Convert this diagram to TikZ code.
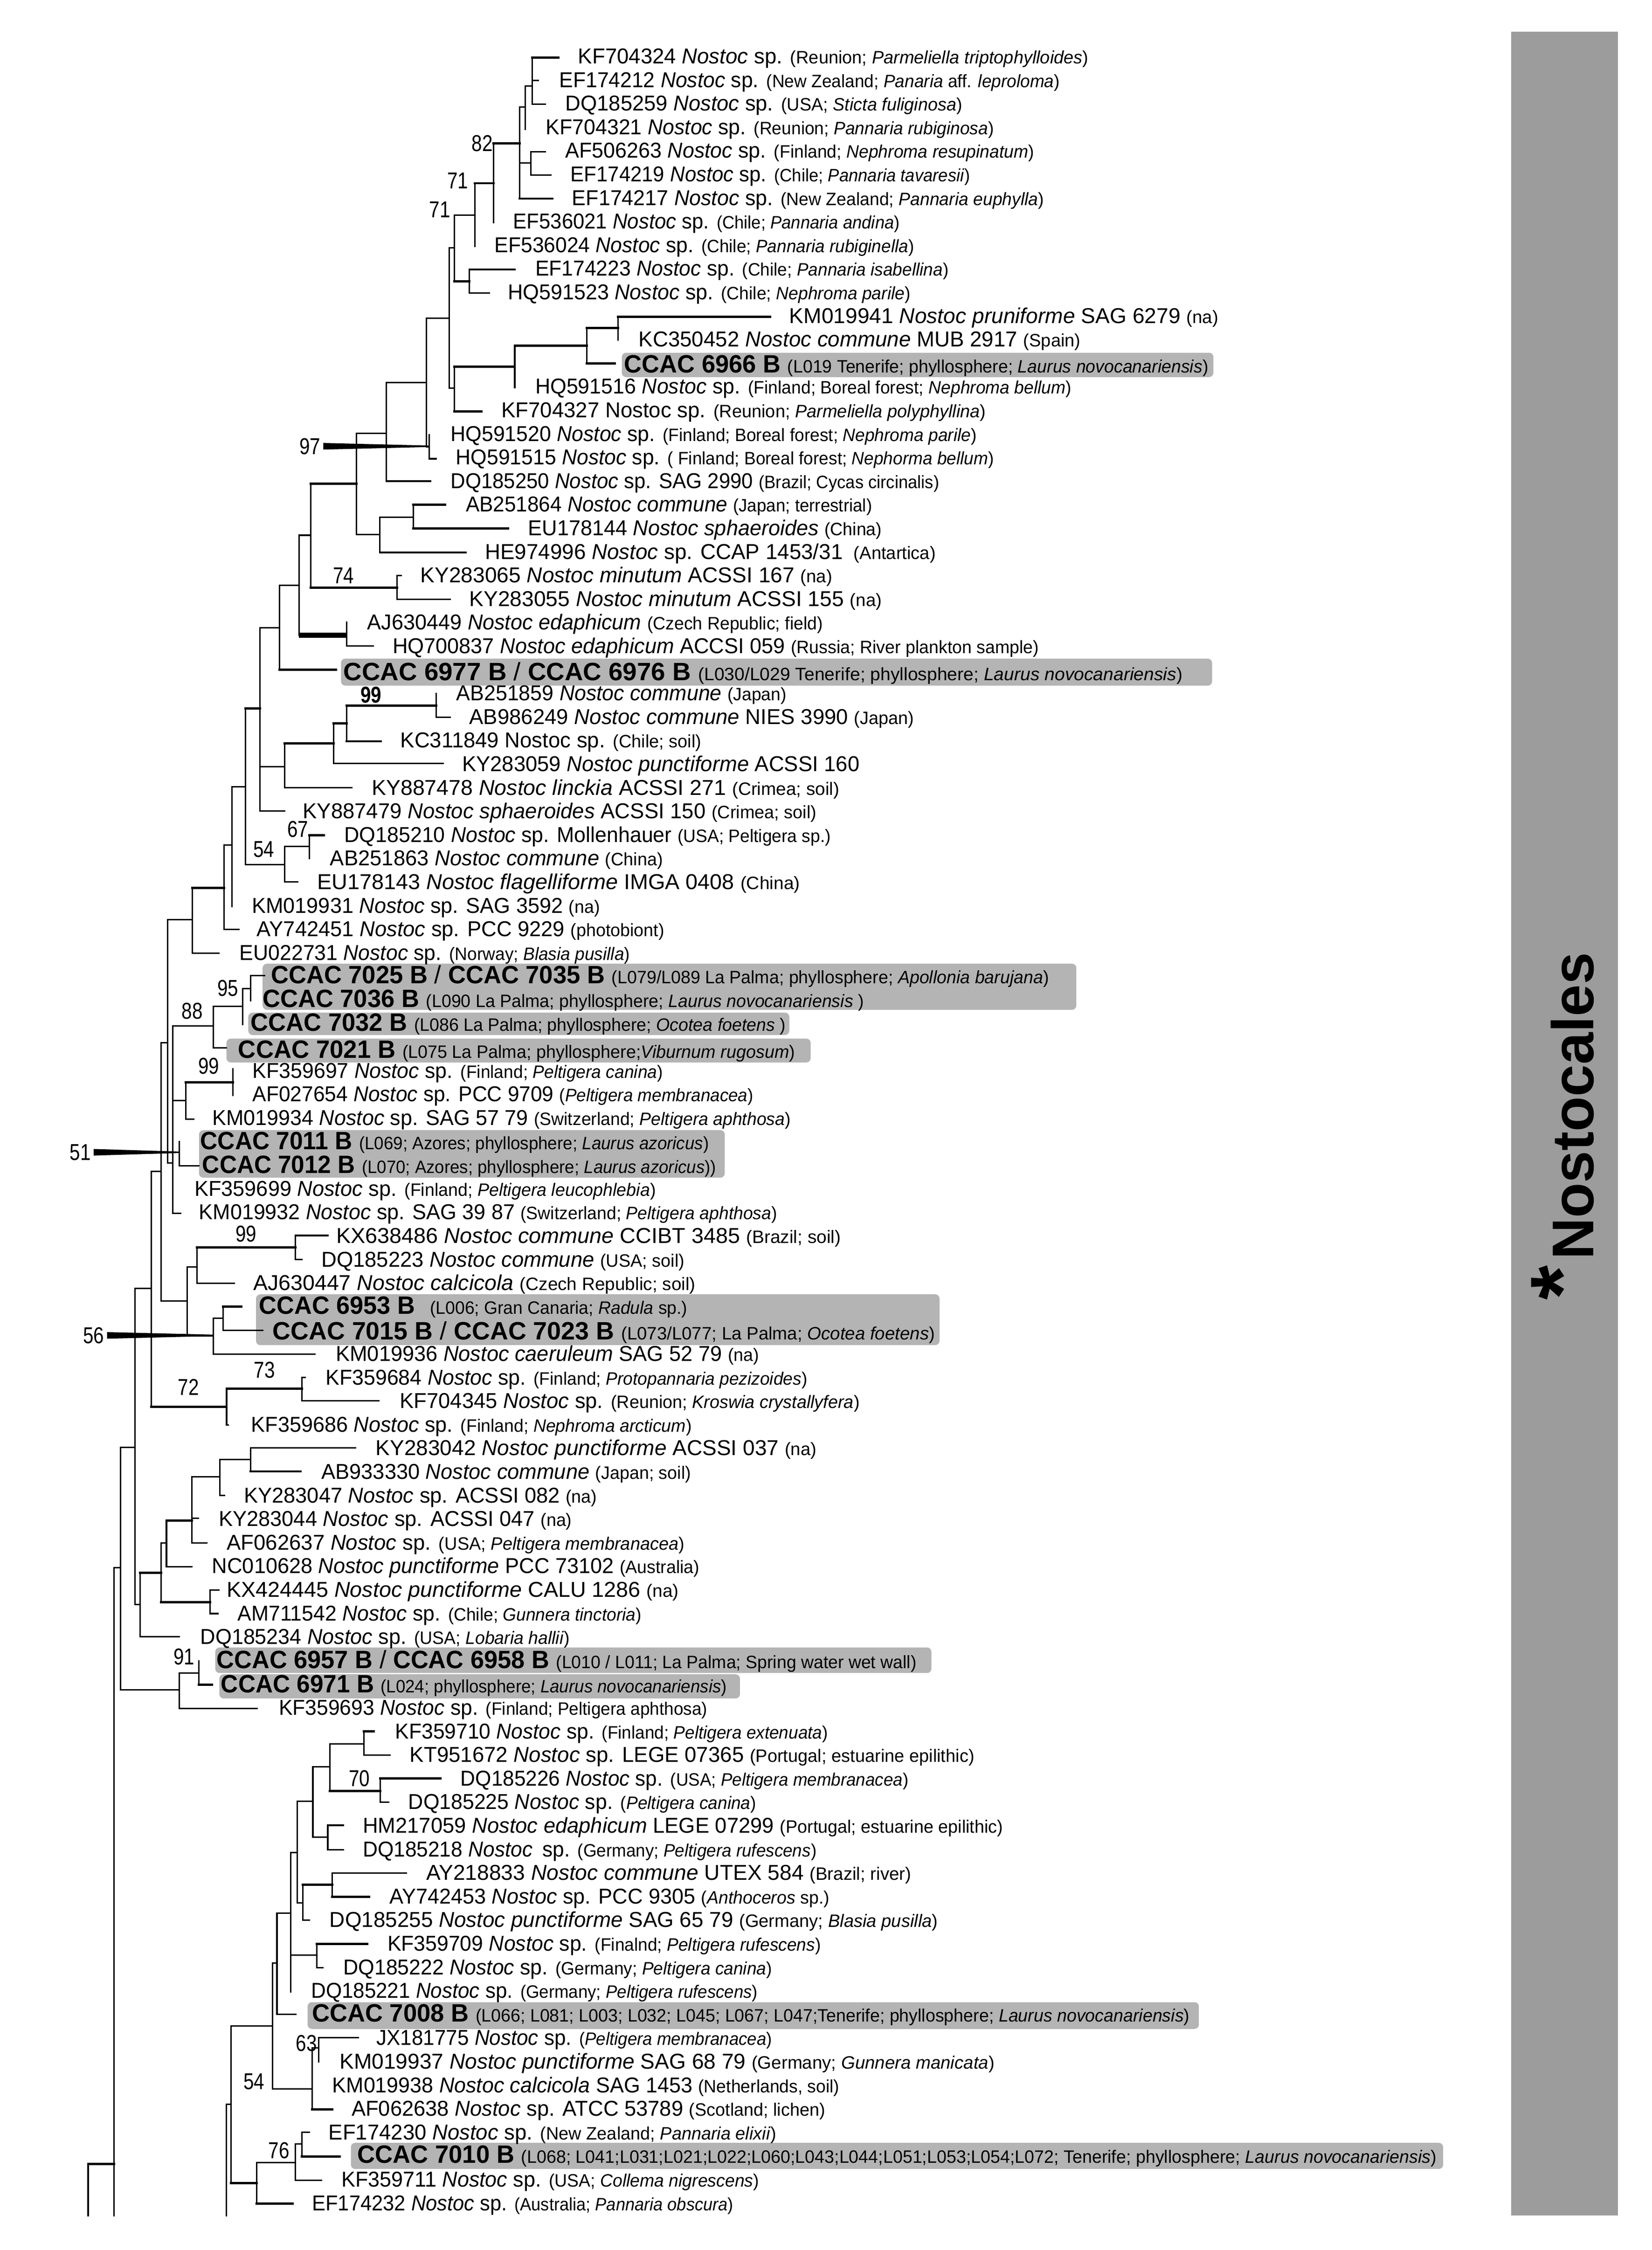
\documentclass[tikz,border=0pt]{standalone}
\usepackage{fontspec}
\usepackage{graphicx}
\usetikzlibrary{calc}
\setmainfont{Liberation Sans}
\definecolor{hl}{HTML}{B4B4B4}
\definecolor{barc}{HTML}{9C9C9C}
\newsavebox\fitbx
\newlength\fitlen
\newcommand\nmf{\normalfont\fontsize{15}{15}\selectfont}
\newcommand\smf{\normalfont\fontsize{12.5}{13}\selectfont}
\newcommand\bdf{\normalfont\fontsize{17.5}{18}\selectfont\bfseries}
\newcommand\It[1]{\textit{#1}}
\newcommand\Ns{\textit{Nostoc} sp.}
% width, content: set the content on one line, squeezed to the given width
\newcommand\fitw[2]{\sbox\fitbx{#2}\setlength\fitlen{\wd\fitbx}%
  \pgfmathsetmacro\fitscale{#1/\fitlen}\scalebox{\fitscale}[1]{\usebox\fitbx}}
% n, x, dy, right end, name, details
\newcommand\leafN[6]{%
  \pgfmathsetmacro\ly{39+(#1-1)*16.44+5.35+#3}%
  \pgfmathsetmacro\lw{#4-#2}%
  \node[leaf] (L#1) at (#2,\ly) {\fitw{\lw}{\nmf #5 \smf #6}};}
\newcommand\leafB[6]{%
  \pgfmathsetmacro\ly{39+(#1-1)*16.44+6.25+#3}%
  \pgfmathsetmacro\lw{#4-#2}%
  \node[leaf] (L#1) at (#2,\ly) {\fitw{\lw}{\bdf #5 \smf #6}};}
\newcommand\Sl{{\mdseries /}}
\newcommand\Nd[3]{\coordinate (#1) at (#2,#3);}
\newcommand\Br[4]{\coordinate (#1) at (#3,#4); \draw[br] (#2) |- (#1);}
\newcommand\Bt[4]{\coordinate (#1) at (#3,#4); \draw[br] (#2) |- (#1); \draw[thk] (#2 |- #1) -- (#1);}
\newcommand\Hl[5]{\fill[hl,rounded corners=3pt] (#2,#3) rectangle (#4,#5) coordinate (hl#1);}
\newcommand\Sv[4]{\node[supp] (#1) at (#2,#3) {\scalebox{.82}[1]{#4}};}
\newcommand\Wg[2]{\fill ($(#1.east)+(2,-2.3)$) -- ($(#1.east -| #2)+(0,-.5)$) -- ($(#1.east -| #2)+(0,.5)$) -- ($(#1.east)+(2,2.3)$) -- cycle;}
\tikzset{
  br/.style={line width=1pt,line cap=rect,black},
  thk/.style={line width=1.6pt,line cap=rect,black},
  leaf/.style={anchor=base west,inner sep=0pt,outer sep=0pt},
  supp/.style={inner sep=0pt,outer sep=0pt,font=\normalfont\fontsize{16}{16}\selectfont},
}
\begin{document}
\begin{tikzpicture}[x=1pt,y=-1pt]
\useasboundingbox (0,0) rectangle (1151.1,1568);
\fill[white] (0,0) rectangle (1151.1,1568);
\fill[barc] (1053,22) rectangle (1127.5,1544);
% highlights
\Hl{a}{433.3}{245.8}{845.5}{262.8}
\Hl{b}{237.6}{459}{844.6}{477.8}
\Hl{c}{183}{671.6}{750}{703.7}
\Hl{d}{173}{705.7}{550}{721.3}
\Hl{e}{157.8}{723.8}{564.9}{740.4}
\Hl{f}{138.7}{787.6}{505}{820.7}
\Hl{g}{178.4}{902}{654.7}{937.4}
\Hl{h}{150}{1148.1}{649}{1165.9}
\Hl{i}{152.8}{1166.8}{515.6}{1183.6}
\Hl{j}{214.3}{1395.3}{835.4}{1413.9}
\Hl{k}{244.5}{1493.3}{1005.6}{1511.5}
% tree
\Nd{rt}{61.4}{1544}
\Bt{a}{rt}{79.4}{1508}
\Br{cutA}{a}{79.4}{1544}
\Br{b}{a}{84}{1092.6}
\Br{c}{b}{94}{1008.6}
\Br{d}{c}{105.4}{898}
\Br{f}{d}{112.3}{816.2}
\Br{g}{f}{116.8}{726.5}
\Br{h}{g}{134}{641}
\Bt{i}{h}{156}{618.7}
\Br{j}{i}{161.5}{589}
\Br{k}{j}{171}{548.3}
\Bt{l}{k}{181}{493.8}
\Br{m}{l}{194.7}{437.4}
\Br{n}{m}{208.4}{407.8}
\Br{o}{n}{216.6}{373}
\Bt{p}{o}{248.5}{337}
\Br{q}{p}{269.2}{302}
\Br{ra}{q}{297.2}{266.5}
\Br{s1}{ra}{313}{221.7}
\Br{s2}{s1}{316.6}{172.6}
\Br{s3}{s2}{331}{149.8}
\Bt{s4}{s3}{344}{127.7}
\Bt{s5}{s4}{362}{100}
\Br{s6}{s5}{366}{74.6}
\Br{s7}{s6}{371}{60}
\Bt{e1}{s7}{389}{40}
\Br{e2}{s7}{375}{56}
\Br{e3}{s7}{380}{72.6}
\Br{e4}{s6}{366}{90}
\Br{s8}{s5}{370}{113.6}
\Br{e5}{s8}{380}{105.7}
\Br{e6}{s8}{384}{121.9}
\Bt{e7}{s5}{385}{138.4}
\Br{e8}{s4}{344}{155}
\Br{e9}{s3}{331}{171.6}
\Bt{s9}{s2}{327}{196}
\Br{e10}{s9}{358.7}{187.8}
\Br{e11}{s9}{341}{204.3}
\Br{s10}{s1}{316.6}{270.6}
\Bt{s11}{s10}{358.7}{255.5}
\Bt{s12}{s11}{409}{241}
\Bt{s13}{s12}{430.7}{228.6}
\Bt{e12}{s13}{536.7}{220.9}
\Br{e13}{s13}{430.7}{236.9}
\Bt{e14}{s12}{428.5}{253.4}
\Br{e15}{s11}{358.7}{270}
\Bt{e16}{s10}{335.6}{286.6}
\Br{s14}{ra}{299}{311.5}
\Br{e17}{s14}{299}{303}
\Br{e18}{s14}{304}{319.7}
\Br{e19}{q}{300}{335.3}
\Br{s15}{p}{264.5}{372.6}
\Br{s16}{s15}{288}{360.5}
\Bt{e20}{s16}{310}{351.8}
\Bt{e21}{s16}{354}{368.4}
\Br{e22}{s15}{324.6}{385}
\Bt{s17}{o}{276.8}{409.4}
\Br{e23}{s17}{279.5}{401}
\Br{e24}{s17}{313.7}{417.7}
\Br{s18}{n}{241.7}{442.6}
\draw[line width=3.5pt] (n |- s18) -- (s18);
\Br{e25}{s18}{241.7}{433.7}
\Br{e26}{s18}{260}{450.3}
\Bt{e27}{m}{234}{466.8}
\Br{s19}{l}{198.4}{534.2}
\Bt{s20}{s19}{232.6}{518}
\Bt{s21}{s20}{241.7}{504}
\Bt{s22}{s21}{304}{491.7}
\Br{e28}{s22}{304}{483.4}
\Br{e29}{s22}{313.7}{500}
\Bt{e30}{s21}{265.4}{516.6}
\Br{e31}{s20}{308.7}{532}
\Br{e32}{s19}{245}{549}
\Br{e33}{l}{198.4}{565.3}
\Br{s23}{k}{198.4}{602.5}
\Br{s24}{s23}{215.7}{590}
\Bt{e34}{s24}{225.7}{582}
\Br{e35}{s24}{215.7}{598.4}
\Br{e36}{s23}{207.5}{614.6}
\Br{e37}{j}{161.5}{631.6}
\Br{e38}{i}{166.5}{647.7}
\Br{e39}{h}{152.4}{664.3}
\Br{s25}{g}{120.5}{810.4}
\Br{s26}{s25}{148.7}{715}
\Br{s27}{s26}{169.2}{701.2}
\Br{s28}{s27}{174.7}{689}
\Br{e40}{s28}{184.3}{679.8}
\Br{e41}{s28}{174.7}{697.5}
\Br{e42}{s27}{169.2}{714}
\Br{e43}{s26}{157.8}{730.2}
\Br{s29}{s25}{129.6}{766.9}
\Bt{s30}{s29}{162.4}{754.4}
\Br{e44}{s30}{162.4}{745}
\Br{e45}{s30}{162.4}{763.4}
\Br{e46}{s29}{135}{780}
\Br{s31}{s25}{125}{803.1}
\Br{e47}{s31}{125}{795.5}
\Br{e48}{s31}{138.7}{812.5}
\Br{e49}{s25}{120.5}{827}
\Br{e50}{s25}{126}{845.6}
\Br{s32}{f}{130.5}{906.7}
\Br{s33}{s32}{137.3}{883}
\Bt{s34}{s33}{205.7}{869.4}
\Br{e51}{s34}{228.5}{861}
\Br{e52}{s34}{210.3}{877.7}
\Br{e53}{s33}{163.3}{894.3}
\Br{s35}{s32}{148.7}{931}
\Br{s36}{s35}{155.6}{918.7}
\Bt{e54}{s36}{168.3}{910.5}
\Br{e55}{s36}{183}{927}
\Br{e56}{s35}{219.4}{943.6}
\Bt{s37}{d}{157.9}{980.3}
\Bt{s38}{s37}{210.3}{967.8}
\Br{e57}{s38}{212.5}{960}
\Br{e58}{s38}{264}{976.2}
\Br{e59}{s37}{159}{993}
\Br{s39}{c}{97.7}{1118.3}
\Bt{s40}{s39}{112.3}{1096}
\Br{s41}{s40}{116}{1075.4}
\Bt{s42}{s41}{133.7}{1059.6}
\Br{s43}{s42}{153.3}{1029.2}
\Br{s44}{s43}{174.7}{1017.2}
\Br{e60}{s44}{247.6}{1009}
\Bt{e61}{s44}{209.4}{1025.4}
\Br{e62}{s43}{156.5}{1042.2}
\Br{e63}{s42}{138.2}{1058}
\Br{e64}{s42}{144.2}{1075.4}
\Br{e65}{s41}{133.7}{1091.8}
\Bt{s45}{s40}{146.5}{1116.4}
\Br{e66}{s45}{152.4}{1108}
\Br{e67}{s45}{152}{1124.5}
\Br{e68}{s39}{125}{1140.7}
\Br{s46}{b}{125}{1177.6}
\Br{s47}{s46}{138.7}{1166}
\Br{e69}{s47}{138.7}{1157.5}
\Bt{e70}{s47}{147.8}{1174}
\Br{e71}{s46}{179.3}{1190.7}
\Nd{rs}{157.7}{1544}
\Br{u1}{rs}{161}{1466.4}
\Br{u2}{u1}{189.9}{1412}
\Br{u3}{u2}{193}{1368}
\Br{u4}{u3}{202.7}{1333.1}
\Br{u5}{u4}{207}{1291}
\Br{u6}{u5}{218}{1255.4}
\Br{u7}{u6}{229.9}{1231.1}
\Br{u8}{u7}{253.6}{1215.3}
\Bt{e72}{u8}{260.4}{1206.5}
\Br{e73}{u8}{271.8}{1223}
\Bt{u9}{u7}{265}{1248}
\Bt{e74}{u9}{306.9}{1239.2}
\Br{e75}{u9}{270.9}{1256}
\Br{u10}{u6}{228.4}{1280.2}
\Br{e76}{u10}{239.3}{1272}
\Br{e77}{u10}{239.3}{1289}
\Br{u11}{u5}{211}{1326}
\Bt{u12}{u11}{231.6}{1313.5}
\Br{e78}{u12}{283}{1305.3}
\Bt{e79}{u12}{257.3}{1321.8}
\Br{e80}{u11}{215.6}{1338}
\Br{u13}{u4}{220.7}{1362.5}
\Bt{e81}{u13}{256}{1354.7}
\Br{e82}{u13}{225}{1371.3}
\Br{e83}{u4}{202.7}{1388}
\Br{e84}{u3}{206}{1403.7}
\Br{u14}{u2}{217.5}{1455.6}
\Br{u15}{u14}{222}{1427}
\Br{e85}{u15}{249.6}{1420}
\Br{e86}{u15}{222}{1437}
\Bt{e88}{u14}{231.6}{1470}
\Bt{u16}{u1}{179}{1521.3}
\Br{u17}{u16}{205.9}{1507.2}
\Br{u18}{u17}{210.4}{1494.2}
\Br{e89}{u18}{215.6}{1486}
\Bt{e90}{u18}{236.8}{1502.7}
\Br{e91}{u17}{223.9}{1519.3}
\Bt{e92}{u16}{204}{1535.6}
% support values
\Sv{v82}{336}{100}{82}
\Sv{v71a}{319}{126}{71}
\Sv{v71b}{306.5}{146}{71}
\Sv{v97}{216}{311}{97}
\Sv{v74}{239.4}{401}{74}
\Sv{v99a}{258.5}{484.4}{\textbf{99}}
\Sv{v67}{207.5}{577.7}{67}
\Sv{v54a}{183.8}{592}{54}
\Sv{v95}{158.8}{688.8}{95}
\Sv{v88}{134}{704.7}{88}
\Sv{v99b}{145.5}{743}{99}
\Sv{v51}{56}{803}{51}
\Sv{v99c}{171.5}{860}{99}
\Sv{v56}{65.3}{930.6}{56}
\Sv{v73}{184.3}{954.8}{73}
\Sv{v72}{131.4}{966.8}{72}
\Sv{v91}{128.2}{1154.7}{91}
\Sv{v70}{250.4}{1239.5}{70}
\Sv{v63}{213.6}{1424}{63}
\Sv{v54b}{177}{1450.7}{54}
\Sv{v76}{194.4}{1498.7}{76}
\Wg{v97}{s14}
\Wg{v51}{s31}
\Wg{v56}{s35}
% leaves
\leafN{1}{402.8}{0}{758.5}{KF704324 \Ns}{(Reunion; \It{Parmeliella triptophylloides})}
\leafN{2}{389.7}{0}{738.5}{EF174212 \Ns}{(New Zealand; \It{Panaria} aff. \It{leproloma})}
\leafN{3}{394}{0}{670.5}{DQ185259 \Ns}{(USA; \It{Sticta fuliginosa})}
\leafN{4}{380.4}{0}{692.6}{KF704321 \Ns}{(Reunion; \It{Pannaria rubiginosa})}
\leafN{5}{394}{0}{720.6}{AF506263 \Ns}{(Finland; \It{Nephroma resupinatum})}
\leafN{6}{397.5}{0}{676}{EF174219 \Ns}{(Chile; \It{Pannaria tavaresii})}
\leafN{7}{398.6}{0}{727.5}{EF174217 \Ns}{(New Zealand; \It{Pannaria euphylla})}
\leafN{8}{357.6}{0}{627}{EF536021 \Ns}{(Chile; \It{Pannaria andina})}
\leafN{9}{344.6}{0}{637}{EF536024 \Ns}{(Chile; \It{Pannaria rubiginella})}
\leafN{10}{373}{0}{661}{EF174223 \Ns}{(Chile; \It{Pannaria isabellina})}
\leafN{11}{354}{0}{634.5}{HQ591523 \Ns}{(Chile; \It{Nephroma parile})}
\leafN{12}{550}{0}{849}{KM019941 \It{Nostoc pruniforme} SAG 6279}{(na)}
\leafN{13}{445}{0}{753}{KC350452 \It{Nostoc commune} MUB 2917}{(Spain)}
\leafB{14}{435}{.7}{842}{CCAC 6966 B}{(L019 Tenerife; phyllosphere; \It{Laurus novocanariensis})}
\leafN{15}{373}{0}{746.7}{HQ591516 \Ns}{(Finland; Boreal forest; \It{Nephroma bellum})}
\leafN{16}{349.4}{0}{687}{KF704327 Nostoc sp.}{(Reunion; \It{Parmeliella polyphyllina})}
\leafN{17}{314}{0}{680.6}{HQ591520 \Ns}{(Finland; Boreal forest; \It{Nephroma parile})}
\leafN{18}{317.7}{0}{692.6}{HQ591515 \Ns}{( Finland; Boreal forest; \It{Nephorma bellum})}
\leafN{19}{314}{0}{654.5}{DQ185250 \Ns{} SAG 2990}{(Brazil; Cycas circinalis)}
\leafN{20}{324.6}{0}{607.7}{AB251864 \It{Nostoc commune}}{(Japan; terrestrial)}
\leafN{21}{368}{0}{614.5}{EU178144 \It{Nostoc sphaeroides}}{(China)}
\leafN{22}{338}{0}{652}{HE974996 \Ns{} CCAP 1453/31}{ (Antartica)}
\leafN{23}{293}{0}{580}{KY283065 \It{Nostoc minutum} ACSSI 167}{(na)}
\leafN{24}{327}{0}{614.5}{KY283055 \It{Nostoc minutum} ACSSI 155}{(na)}
\leafN{25}{256}{0}{573.5}{AJ630449 \It{Nostoc edaphicum}}{(Czech Republic; field)}
\leafN{26}{273.6}{0}{724}{HQ700837 \It{Nostoc edaphicum} ACCSI 059}{(Russia; River plankton sample)}
\leafB{27}{239.4}{1.5}{824}{CCAC 6977 B \Sl{} CCAC 6976 B}{(L030/L029 Tenerife; phyllosphere; \It{Laurus novocanariensis})}
\leafN{28}{318}{0}{548}{AB251859 \It{Nostoc commune}}{(Japan)}
\leafN{29}{327}{0}{637}{AB986249 \It{Nostoc commune} NIES 3990}{(Japan)}
\leafN{30}{279}{0}{488.7}{KC311849 Nostoc sp.}{(Chile; soil)}
\leafN{31}{322}{0}{603}{KY283059 \It{Nostoc punctiforme} ACSSI 160}{}
\leafN{32}{259}{0}{585}{KY887478 \It{Nostoc linckia} ACSSI 271}{(Crimea; soil)}
\leafN{33}{211}{0}{569}{KY887479 \It{Nostoc sphaeroides} ACSSI 150}{(Crimea; soil)}
\leafN{34}{240}{0}{579}{DQ185210 \Ns{} Mollenhauer}{(USA; Peltigera sp.)}
\leafN{35}{230}{0}{462}{AB251863 \It{Nostoc commune}}{(China)}
\leafN{36}{221}{0}{557.5}{EU178143 \It{Nostoc flagelliforme} IMGA 0408}{(China)}
\leafN{37}{175.6}{0}{418}{KM019931 \Ns{} SAG 3592}{(na)}
\leafN{38}{179}{0}{463}{AY742451 \Ns{} PCC 9229}{(photobiont)}
\leafN{39}{167}{0}{439}{EU022731 \Ns}{(Norway; \It{Blasia pusilla})}
\leafB{40}{188.8}{-1}{731}{CCAC 7025 B \Sl{} CCAC 7035 B}{(L079/L089 La Palma; phyllosphere; \It{Apollonia barujana})}
\leafB{41}{183}{-1}{602}{CCAC 7036 B}{(L090 La Palma; phyllosphere; \It{Laurus novocanariensis} )}
\leafB{42}{174.7}{-.7}{547.5}{CCAC 7032 B}{(L086 La Palma; phyllosphere; \It{Ocotea foetens} )}
\leafB{43}{166}{1.5}{554}{CCAC 7021 B}{(L075 La Palma; phyllosphere;\It{Viburnum rugosum})}
\leafN{44}{176}{0}{462}{KF359697 \Ns}{(Finland; \It{Peltigera canina})}
\leafN{45}{176}{0}{525}{AF027654 \Ns{} PCC 9709}{(\It{Peltigera membranacea})}
\leafN{46}{148}{0}{551}{KM019934 \Ns{} SAG 57 79}{(Switzerland; \It{Peltigera aphthosa})}
\leafB{47}{139.6}{-.4}{494}{CCAC 7011 B}{(L069; Azores; phyllosphere; \It{Laurus azoricus})}
\leafB{48}{141}{-.2}{499}{CCAC 7012 B}{(L070; Azores; phyllosphere; \It{Laurus azoricus}))}
\leafN{49}{135.5}{0}{457}{KF359699 \Ns}{(Finland; \It{Peltigera leucophlebia})}
\leafN{50}{138.7}{0}{541.6}{KM019932 \Ns{} SAG 39 87}{(Switzerland; \It{Peltigera aphthosa})}
\leafN{51}{234.4}{0}{586}{KX638486 \It{Nostoc commune} CCIBT 3485}{(Brazil; soil)}
\leafN{52}{224}{0}{477}{DQ185223 \It{Nostoc commune}}{(USA; soil)}
\leafN{53}{176.5}{0}{484.7}{AJ630447 \It{Nostoc calcicola}}{(Czech Republic; soil)}
\leafB{54}{180.6}{-.9}{479}{CCAC 6953 B\hspace{6pt}}{(L006; Gran Canaria; \It{Radula} sp.)}
\leafB{55}{190}{.6}{651.5}{CCAC 7015 B \Sl{} CCAC 7023 B}{(L073/L077; La Palma; \It{Ocotea foetens})}
\leafN{56}{234}{0}{529}{KM019936 \It{Nostoc caeruleum} SAG 52 79}{(na)}
\leafN{57}{227}{0}{562.6}{KF359684 \Ns}{(Finland; \It{Protopannaria pezizoides})}
\leafN{58}{278.6}{0}{599}{KF704345 \Ns}{(Reunion; \It{Kroswia crystallyfera})}
\leafN{59}{175}{0}{482}{KF359686 \Ns}{(Finland; \It{Nephroma arcticum})}
\leafN{60}{261.8}{0}{569}{KY283042 \It{Nostoc punctiforme} ACSSI 037}{(na)}
\leafN{61}{224}{0}{481.5}{AB933330 \It{Nostoc commune}}{(Japan; soil)}
\leafN{62}{170}{0}{416}{KY283047 \Ns{} ACSSI 082}{(na)}
\leafN{63}{152.4}{0}{398.5}{KY283044 \Ns{} ACSSI 047}{(na)}
\leafN{64}{158}{0}{477}{AF062637 \Ns}{(USA; \It{Peltigera membranacea})}
\leafN{65}{147.8}{0}{487.4}{NC010628 \It{Nostoc punctiforme} PCC 73102}{(Australia)}
\leafN{66}{158}{0}{473}{KX424445 \It{Nostoc punctiforme} CALU 1286}{(na)}
\leafN{67}{165.6}{0}{447}{AM711542 \Ns}{(Chile; \It{Gunnera tinctoria})}
\leafN{68}{139.6}{0}{397}{DQ185234 \Ns}{(USA; \It{Lobaria hallii})}
\leafB{69}{151}{-.5}{638.7}{CCAC 6957 B \Sl{} CCAC 6958 B}{(L010 / L011; La Palma; Spring water wet wall)}
\leafB{70}{154}{0}{506.5}{CCAC 6971 B}{(L024; phyllosphere; \It{Laurus novocanariensis})}
\leafN{71}{194.3}{0}{493}{KF359693 \Ns}{(Finland; Peltigera aphthosa)}
\leafN{72}{275.4}{0}{577}{KF359710 \Ns}{(Finland; \It{Peltigera extenuata})}
\leafN{73}{285.5}{0}{679}{KT951672 \Ns{} LEGE 07365}{(Portugal; estuarine epilithic)}
\leafN{74}{321}{0}{633}{DQ185226 \Ns}{(USA; \It{Peltigera membranacea})}
\leafN{75}{284.6}{0}{527}{DQ185225 \Ns}{(\It{Peltigera canina})}
\leafN{76}{252.8}{0}{699}{HM217059 \It{Nostoc edaphicum} LEGE 07299}{(Portugal; estuarine epilithic)}
\leafN{77}{252.8}{0}{569}{DQ185218 \It{Nostoc}\hspace{3pt} sp.}{(Germany; \It{Peltigera rufescens})}
\leafN{78}{297}{0}{635}{AY218833 \It{Nostoc commune} UTEX 584}{(Brazil; river)}
\leafN{79}{271.4}{0}{578}{AY742453 \Ns{} PCC 9305}{(\It{Anthoceros} sp.)}
\leafN{80}{229.7}{0}{653.6}{DQ185255 \It{Nostoc punctiforme} SAG 65 79}{(Germany; \It{Blasia pusilla})}
\leafN{81}{270}{0}{572}{KF359709 \Ns}{(Finalnd; \It{Peltigera rufescens})}
\leafN{82}{239.3}{0}{538}{DQ185222 \Ns}{(Germany; \It{Peltigera canina})}
\leafN{83}{216.8}{0}{528}{DQ185221 \Ns}{(Germany; \It{Peltigera rufescens})}
\leafB{84}{217.5}{-.8}{829}{CCAC 7008 B}{(L066; L081; L003; L032; L045; L067; L047;Tenerife; phyllosphere; \It{Laurus novocanariensis})}
\leafN{85}{262.4}{0}{538}{JX181775 \Ns}{(\It{Peltigera membranacea})}
\leafN{86}{236.7}{0}{693}{KM019937 \It{Nostoc punctiforme} SAG 68 79}{(Germany; \It{Gunnera manicata})}
\leafN{87}{231.6}{0}{585}{KM019938 \It{Nostoc calcicola} SAG 1453}{(Netherlands, soil)}
\leafN{88}{245}{0}{575}{AF062638 \Ns{} ATCC 53789}{(Scotland; lichen)}
\leafN{89}{229}{0}{541}{EF174230 \Ns}{(New Zealand; \It{Pannaria elixii})}
\leafB{90}{249}{-.9}{1001}{CCAC 7010 B}{(L068; L041;L031;L021;L022;L060;L043;L044;L051;L053;L054;L072; Tenerife; phyllosphere; \It{Laurus novocanariensis})}
\leafN{91}{238}{0}{529}{KF359711 \Ns}{(USA; \It{Collema nigrescens})}
\leafN{92}{217.5}{0}{511}{EF174232 \Ns}{(Australia; \It{Pannaria obscura})}
% side label
\node[rotate=90,anchor=base west,inner sep=0pt] (order) at (1110.5,878) {\fitw{214}{\normalfont\fontsize{41}{41}\selectfont\bfseries Nostocales}};
\node[rotate=90,anchor=base,inner sep=0pt,font=\normalfont\fontsize{62}{62}\selectfont\bfseries] (star) at (1109.6,894) {*};
\end{tikzpicture}
\end{document}
